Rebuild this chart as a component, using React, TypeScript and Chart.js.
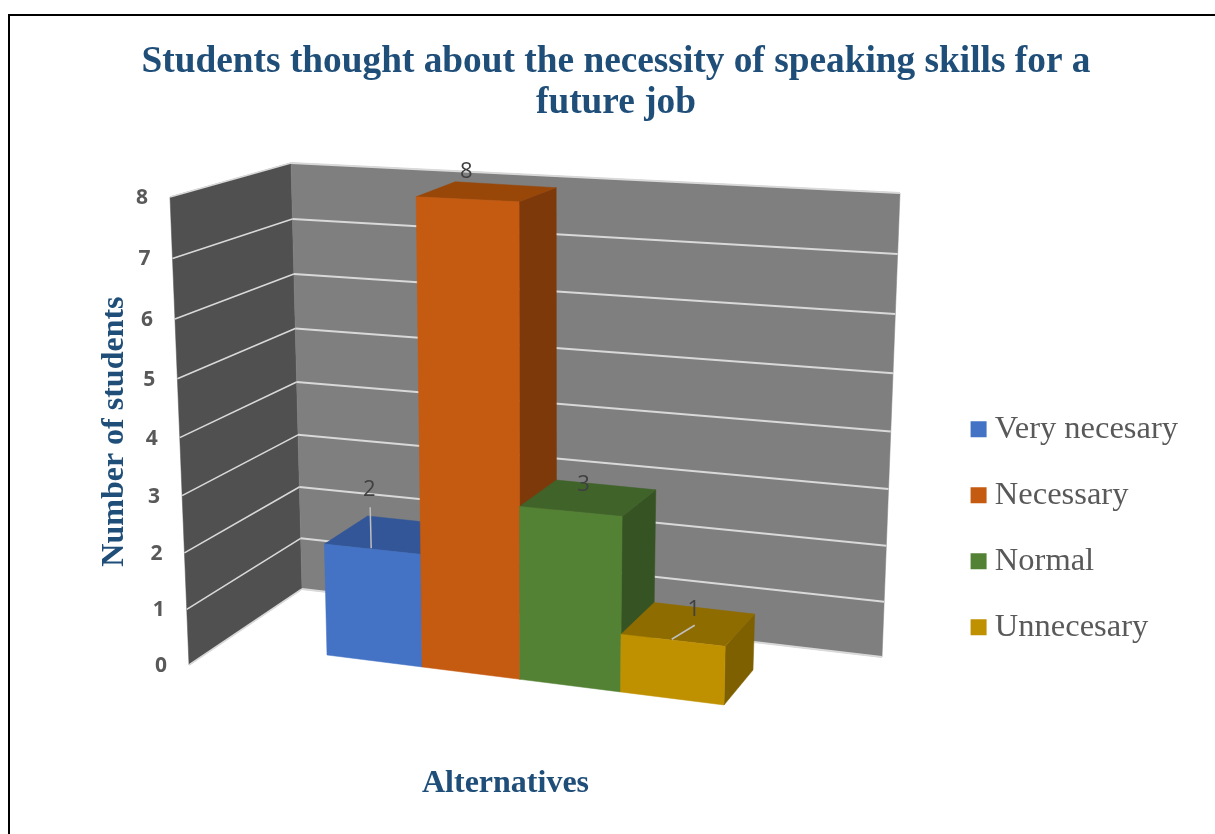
import React, { useEffect, useRef } from "react";
import { Chart, registerables } from "chart.js";

Chart.register(...registerables);

// ---- data ----
const categories = [""];
const seriesNames = ["Very necesary", "Necessary", "Normal", "Unnecesary"];
const seriesValues = [2, 8, 3, 1];
const yTickStep = 1;
const yMax = 8;
const titleLines = ["Students thought about the necessity of speaking skills for a", "future job"];
const yAxisTitle = "Number of students";
const xAxisTitle = "Alternatives";

// ---- styles ----
const frontColors = ["#4472C4", "#C55A11", "#548235", "#BF9000"];
const topColors = ["#325697", "#984708", "#40632A", "#8F6C00"];
const sideColors = ["#2A4A82", "#7E390A", "#365423", "#7F6000"];
const titleColor = "#1F4E79";
const textGrey = "#595959";
const labelGrey = "#404040";
const gridColor = "#D9D9D9";
const leaderColor = "#BFBFBF";
const backWallColor = "#7F7F7F";
const leftWallColor = "#505050";
// data-label placement relative to the front-top edge centre of a bar
const labelDx = [-3, -1, 13, 21];
const labelDy = [-59, -28, -27, -31];
const leaderDx = [-1, 0, 0, 23];
const leaderDy = [-41, 0, 0, -14];

// ---- 3D view: bilinear projection planes [bottom-left, bottom-right, top-left, top-right] ----
type P = [number, number];
const barFront: P[] = [[327, 655], [724, 705], [316, 192], [734, 212]];
const barBack: P[] = [[371, 623], [753, 670], [357, 176], [767, 200]];
const backWall: P[] = [[302, 589], [882, 657], [291, 163], [900, 193]];
const leftWall: P[] = [[189, 665], [302, 589], [170, 197], [291, 163]];
const perspective = 0.945;

const persp = (t: number) => (t * perspective) / (1 + (perspective - 1) * t);
const project = (pl: P[], u: number, v: number): P => {
  const a = persp(u);
  const b = persp(v);
  const bx = pl[0][0] + (pl[1][0] - pl[0][0]) * a;
  const by = pl[0][1] + (pl[1][1] - pl[0][1]) * a;
  const tx = pl[2][0] + (pl[3][0] - pl[2][0]) * a;
  const ty = pl[2][1] + (pl[3][1] - pl[2][1]) * a;
  return [bx + (tx - bx) * b, by + (ty - by) * b];
};
const fillPoly = (ctx: CanvasRenderingContext2D, pts: P[], color: string) => {
  ctx.beginPath();
  pts.forEach((p, i) => (i ? ctx.lineTo(p[0], p[1]) : ctx.moveTo(p[0], p[1])));
  ctx.closePath();
  ctx.fillStyle = color;
  ctx.fill();
  ctx.strokeStyle = color;
  ctx.lineWidth = 0.5;
  ctx.stroke();
};
const line = (ctx: CanvasRenderingContext2D, pts: P[], color: string, w: number) => {
  ctx.beginPath();
  pts.forEach((p, i) => (i ? ctx.lineTo(p[0], p[1]) : ctx.moveTo(p[0], p[1])));
  ctx.strokeStyle = color;
  ctx.lineWidth = w;
  ctx.stroke();
};

const view3d = {
  id: "view3d",
  beforeDatasetsDraw(chart: any) {
    const { ctx, chartArea: ca, scales } = chart;
    const y = scales.y;
    const vOf = (px: number) => (ca.bottom - px) / (ca.bottom - ca.top);
    ctx.save();
    // walls
    fillPoly(ctx, [project(leftWall, 0, 0), project(leftWall, 1, 0), project(leftWall, 1, 1), project(leftWall, 0, 1)], leftWallColor);
    fillPoly(ctx, [project(backWall, 0, 0), project(backWall, 1, 0), project(backWall, 1, 1), project(backWall, 0, 1)], backWallColor);
    // gridlines and tick labels, from the y scale
    y.ticks.forEach((t: any) => {
      const v = vOf(y.getPixelForValue(t.value));
      line(ctx, [project(leftWall, 0, v), project(leftWall, 1, v)], gridColor, 1.6);
      line(ctx, [project(backWall, 0, v), project(backWall, 1, v)], gridColor, 2);
      const p = project(leftWall, 0, v);
      ctx.fillStyle = textGrey;
      ctx.font = "bold 21px 'Open Sans'";
      ctx.textAlign = "center";
      ctx.textBaseline = "middle";
      ctx.fillText(String(t.value), p[0] - 28, p[1] + 1);
    });
    // bars
    const labels: (() => void)[] = [];
    chart.data.datasets.forEach((ds: any, i: number) => {
      const el = chart.getDatasetMeta(i).data[0];
      const w = ca.right - ca.left;
      const u0 = (el.x - el.width / 2 - ca.left) / w;
      const u1 = (el.x + el.width / 2 - ca.left) / w;
      const v = vOf(el.y);
      const v0 = vOf(el.base);
      fillPoly(ctx, [project(barFront, u1, v0), project(barBack, u1, v0), project(barBack, u1, v), project(barFront, u1, v)], sideColors[i]);
      fillPoly(ctx, [project(barFront, u0, v), project(barFront, u1, v), project(barBack, u1, v), project(barBack, u0, v)], topColors[i]);
      fillPoly(ctx, [project(barFront, u0, v0), project(barFront, u1, v0), project(barFront, u1, v), project(barFront, u0, v)], frontColors[i]);
      const a = project(barFront, (u0 + u1) / 2, v);
      labels.push(() => {
        if (leaderDx[i] || leaderDy[i]) {
          line(ctx, [[a[0] - 1, a[1] - 1], [a[0] - 1 + leaderDx[i], a[1] - 1 + leaderDy[i]]], leaderColor, 1.5);
        }
        ctx.fillStyle = labelGrey;
        ctx.font = "22px 'Open Sans'";
        ctx.textAlign = "center";
        ctx.textBaseline = "middle";
        ctx.fillText(String(ds.data[0]), a[0] + labelDx[i], a[1] + labelDy[i]);
      });
    });
    labels.forEach((d) => d());
    ctx.restore();
    return false;
  },
};

export default function App() {
  const ref = useRef<HTMLCanvasElement>(null);
  useEffect(() => {
    const chart = new Chart(ref.current as HTMLCanvasElement, {
      type: "bar",
      data: {
        labels: categories,
        datasets: seriesNames.map((name, i) => ({
          label: name,
          data: [seriesValues[i]],
          backgroundColor: frontColors[i],
          borderWidth: 0,
          barPercentage: 1,
          categoryPercentage: 1,
        })),
      },
      options: {
        responsive: false,
        animation: false,
        layout: { padding: { left: 44, right: 27, top: 0, bottom: 0 } },
        scales: {
          x: {
            grid: { display: false },
            border: { display: false },
            ticks: { display: false },
            title: {
              display: true,
              text: xAxisTitle,
              color: titleColor,
              font: { family: "'Liberation Serif'", size: 32, weight: "bold" },
              padding: { top: 89, bottom: 31 },
            },
            afterFit: (s: any) => {
              s.height = 157;
            },
          },
          y: {
            min: 0,
            max: yMax,
            grid: { display: false },
            border: { display: false },
            ticks: { display: false, stepSize: yTickStep },
            title: {
              display: true,
              text: yAxisTitle,
              color: titleColor,
              font: { family: "'Liberation Serif'", size: 32, weight: "bold" },
              padding: { top: 52, bottom: 0 },
            },
            afterFit: (s: any) => {
              s.width = 126;
            },
          },
          spacer: {
            type: "linear",
            position: "right",
            display: true,
            grid: { display: false },
            border: { display: false },
            ticks: { display: false },
            afterFit: (s: any) => {
              s.width = 104;
            },
          },
        },
        plugins: {
          tooltip: { enabled: false },
          title: {
            display: true,
            text: titleLines,
            color: titleColor,
            font: { family: "'Liberation Serif'", size: 37.33, weight: "bold", lineHeight: 1.1 },
            padding: { top: 42, bottom: 62 },
          },
          legend: {
            position: "right",
            align: "end",
            fullSize: false,
            maxWidth: 268,
            labels: {
              usePointStyle: true,
              pointStyle: "rect",
              boxWidth: 0.01,
              boxHeight: 16,
              padding: 33.5,
              color: textGrey,
              font: { family: "'Liberation Serif'", size: 32.5 },
            },
          },
        },
      } as any,
      plugins: [view3d as any],
    });
    return () => chart.destroy();
  }, []);
  return (
    <div style={{ position: "absolute", left: 0, top: 0, width: 1215, height: 834, overflow: "hidden", background: "#fff" }}>
      <canvas ref={ref} width={1215} height={834} style={{ display: "block" }} />
      <div style={{ position: "absolute", left: 8, top: 14, width: 1300, height: 900, borderLeft: "2px solid #000", borderTop: "2px solid #000" }} />
    </div>
  );
}
